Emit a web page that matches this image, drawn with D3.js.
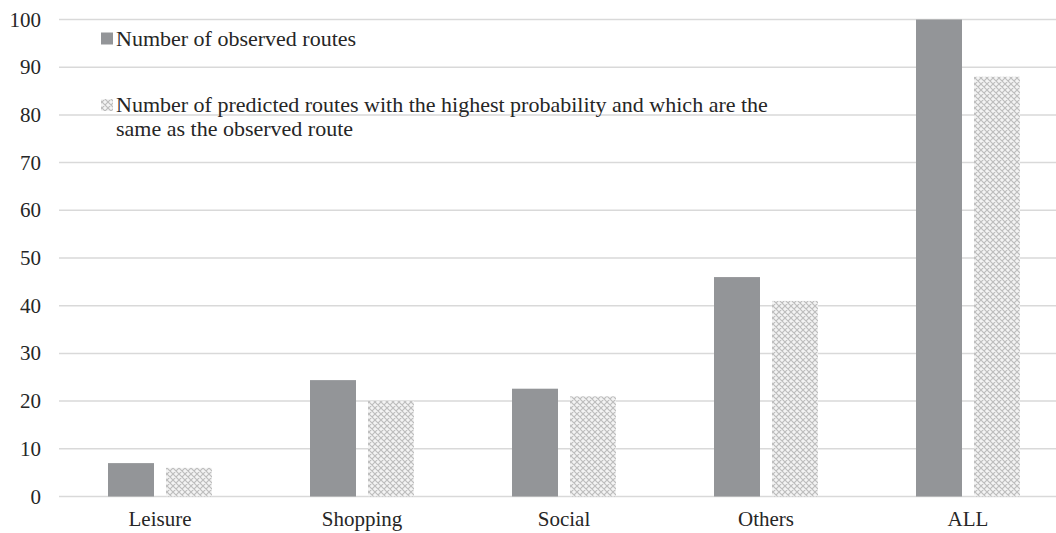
<!DOCTYPE html>
<html>
<head>
<meta charset="utf-8">
<script src="https://cdn.jsdelivr.net/npm/d3@7"></script>
<style>
  html, body { margin: 0; padding: 0; background: #fff; }
  svg { display: block; }
</style>
</head>
<body>
<svg id="chart" width="1056" height="533"></svg>
<script>
// Trip purposes along the x axis
const categories = ["Leisure", "Shopping", "Social", "Others", "ALL"];
// Series names (legend order)
const seriesNames = [
  "Number of observed routes",
  "Number of predicted routes with the highest probability and which are the same as the observed route"
];
const observedRoutes = [7, 24.4, 22.6, 46, 100];
const predictedRoutes = [6, 20, 21, 41, 88];
const yTicks = [0, 10, 20, 30, 40, 50, 60, 70, 80, 90, 100];

const FONT = '"Liberation Serif", "Times New Roman", serif';
const TEXT = "#262626";

const svg = d3.select("#chart");
const W = 1056;
const plotLeft = 59, plotRight = 1069, plotTop = 19.5, plotBottom = 496.5;

const defs = svg.append("defs");
// Light diamond hatch used for the predicted series
const pat = defs.append("pattern")
  .attr("id", "diamond")
  .attr("patternUnits", "userSpaceOnUse")
  .attr("width", 6).attr("height", 6);
pat.append("rect").attr("width", 6).attr("height", 6).attr("fill", "#f1f1f1");
pat.append("path")
  .attr("d", "M0,0L6,6M6,0L0,6M-1,5L1,7M5,-1L7,1")
  .attr("stroke", "#bdbdbd").attr("stroke-width", 1.1).attr("fill", "none");
[[3, 0], [0, 3], [6, 3], [3, 6]].forEach(([cx, cy]) =>
  pat.append("circle").attr("cx", cx).attr("cy", cy).attr("r", 0.6).attr("fill", "#fff"));

const x0 = d3.scaleBand().domain(categories).range([plotLeft, plotRight]).paddingInner(0).paddingOuter(0);
const x1 = d3.scaleBand().domain([0, 1]).range([0, x0.bandwidth()])
  .paddingInner(0.207).paddingOuter(0.845);
const y = d3.scaleLinear().domain([0, 100]).range([plotBottom, plotTop]);

const fills = ["#939598", "url(#diamond)"];

// Horizontal gridlines
svg.append("g")
  .selectAll("line")
  .data(yTicks)
  .join("line")
  .attr("x1", plotLeft).attr("x2", W)
  .attr("y1", d => y(d)).attr("y2", d => y(d))
  .attr("stroke", "#d9d9d9").attr("stroke-width", 1.5);

// Y tick labels
svg.append("g")
  .selectAll("text")
  .data(yTicks)
  .join("text")
  .attr("x", 41)
  .attr("y", d => y(d) + 7)
  .attr("text-anchor", "end")
  .style("font-family", FONT)
  .attr("font-size", 21)
  .attr("fill", TEXT)
  .text(d => d);

// Bars
const series = [observedRoutes, predictedRoutes];
const groups = svg.append("g")
  .selectAll("g")
  .data(categories)
  .join("g")
  .attr("transform", d => `translate(${x0(d)},0)`);

groups.selectAll("rect")
  .data((c, i) => series.map((s, k) => ({ k, v: s[i] })))
  .join("rect")
  .attr("x", d => x1(d.k))
  .attr("width", x1.bandwidth())
  .attr("y", d => y(d.v))
  .attr("height", d => y(0) - y(d.v))
  .attr("fill", d => fills[d.k]);

// Category labels
svg.append("g")
  .selectAll("text")
  .data(categories)
  .join("text")
  .attr("x", d => x0(d) + x0.bandwidth() / 2)
  .attr("y", 526)
  .attr("text-anchor", "middle")
  .style("font-family", FONT)
  .attr("font-size", 21)
  .attr("fill", TEXT)
  .text(d => d);

// Legend
const legend = svg.append("g").style("font-family", FONT).attr("font-size", 22).attr("fill", TEXT);
legend.append("rect").attr("x", 101).attr("y", 32.5).attr("width", 12).attr("height", 12).attr("fill", fills[0]);
legend.append("text").attr("x", 116).attr("y", 46)
  .text(seriesNames[0]);
legend.append("rect").attr("x", 101).attr("y", 99).attr("width", 12).attr("height", 12).attr("fill", fills[1]);
const t2 = legend.append("text");
t2.append("tspan").attr("x", 116).attr("y", 112)
  .text("Number of predicted routes with the highest probability and which are the");
t2.append("tspan").attr("x", 116).attr("y", 136)
  .text("same as the observed route");
</script>
</body>
</html>
